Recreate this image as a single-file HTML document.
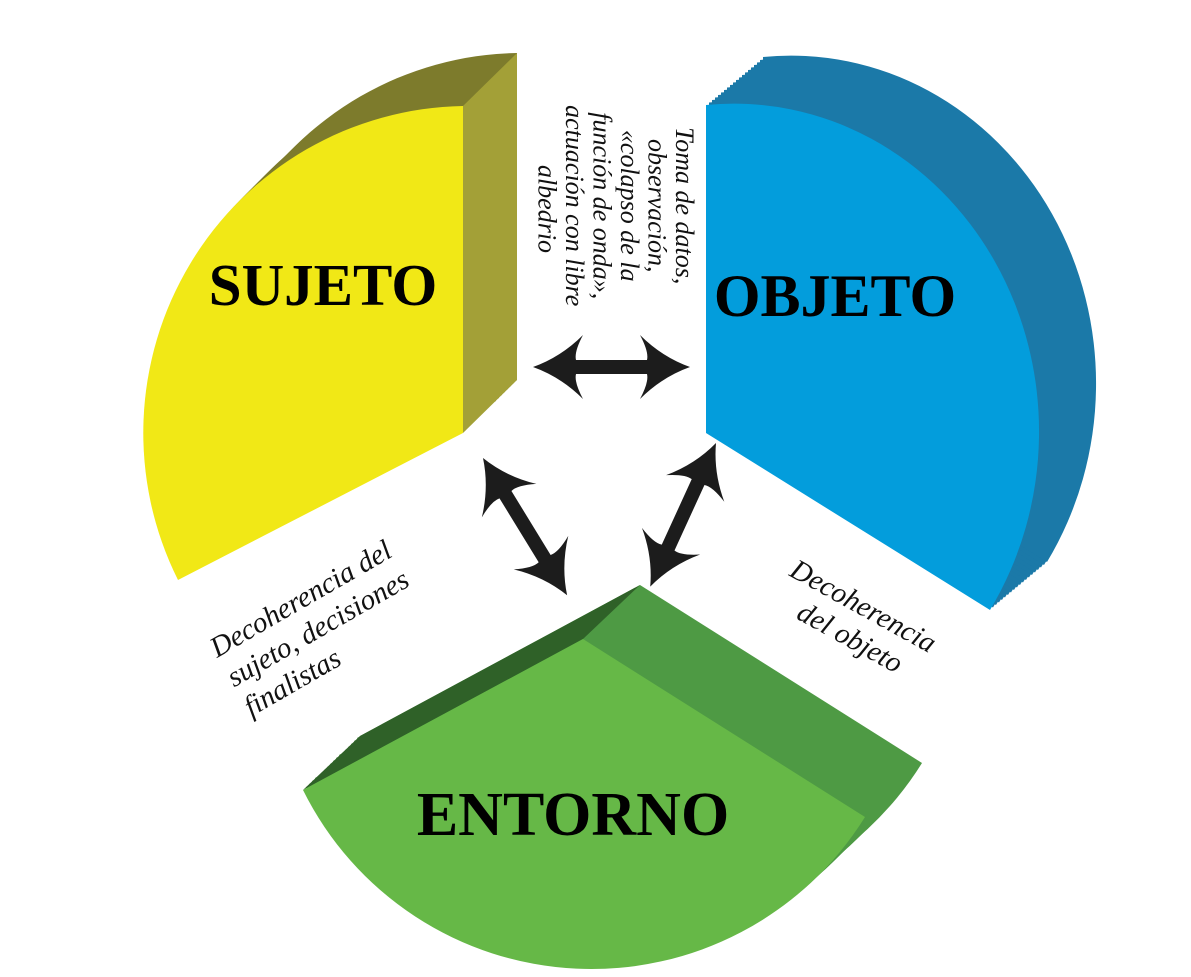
<!DOCTYPE html>
<html><head><meta charset="utf-8"><style>
html,body{margin:0;padding:0;background:#fff;}
svg{display:block;}
</style></head><body>
<svg width="1191" height="977" viewBox="0 0 1191 977" xmlns="http://www.w3.org/2000/svg">
<defs>
<path id="ypie" d="M463,106 L463,433 L178,580 A325,327 0 0 1 463,106 Z"/>
<path id="bpie" d="M706,105 L706,433 L990,610 A305,328 0 0 0 706,105 Z"/>
<path id="gpie" d="M583,639 L303,790 A322,322 0 0 0 865,817 Z"/>
</defs>
<g fill="#7d7b2c">
<use href="#ypie" transform="translate(3,-3)"/><use href="#ypie" transform="translate(6,-6)"/><use href="#ypie" transform="translate(9,-9)"/>
<use href="#ypie" transform="translate(12,-12)"/><use href="#ypie" transform="translate(15,-15)"/><use href="#ypie" transform="translate(18,-18)"/>
<use href="#ypie" transform="translate(21,-21)"/><use href="#ypie" transform="translate(24,-24)"/><use href="#ypie" transform="translate(27,-27)"/>
<use href="#ypie" transform="translate(30,-30)"/><use href="#ypie" transform="translate(33,-32)"/><use href="#ypie" transform="translate(36,-35)"/>
<use href="#ypie" transform="translate(39,-38)"/><use href="#ypie" transform="translate(42,-41)"/><use href="#ypie" transform="translate(45,-44)"/>
<use href="#ypie" transform="translate(48,-47)"/><use href="#ypie" transform="translate(51,-50)"/><use href="#ypie" transform="translate(54,-53)"/>
</g>
<polygon points="463,106 517,53 517,380 463,433" fill="#a3a037"/>
<use href="#ypie" fill="#f1e816"/>
<g fill="#1b79a8">
<use href="#bpie" transform="translate(3,-2.5)"/><use href="#bpie" transform="translate(6,-5)"/><use href="#bpie" transform="translate(9,-7.5)"/>
<use href="#bpie" transform="translate(12,-10)"/><use href="#bpie" transform="translate(15,-12.5)"/><use href="#bpie" transform="translate(18,-15)"/>
<use href="#bpie" transform="translate(21,-17.5)"/><use href="#bpie" transform="translate(24,-20)"/><use href="#bpie" transform="translate(27,-22.5)"/>
<use href="#bpie" transform="translate(30,-25)"/><use href="#bpie" transform="translate(33,-27.5)"/><use href="#bpie" transform="translate(36,-30)"/>
<use href="#bpie" transform="translate(39,-32.5)"/><use href="#bpie" transform="translate(42,-35)"/><use href="#bpie" transform="translate(45,-37.5)"/>
<use href="#bpie" transform="translate(48,-40)"/><use href="#bpie" transform="translate(51,-42.5)"/><use href="#bpie" transform="translate(54,-45)"/>
<use href="#bpie" transform="translate(57,-48)"/>
</g>
<use href="#bpie" fill="#039ddc"/>
<g fill="#4e9a44">
<use href="#gpie" transform="translate(3,-3)"/><use href="#gpie" transform="translate(6,-6)"/><use href="#gpie" transform="translate(9,-9)"/>
<use href="#gpie" transform="translate(12,-12)"/><use href="#gpie" transform="translate(15,-14)"/><use href="#gpie" transform="translate(18,-17)"/>
<use href="#gpie" transform="translate(21,-20)"/><use href="#gpie" transform="translate(24,-23)"/><use href="#gpie" transform="translate(27,-26)"/>
<use href="#gpie" transform="translate(30,-29)"/><use href="#gpie" transform="translate(33,-32)"/><use href="#gpie" transform="translate(36,-35)"/>
<use href="#gpie" transform="translate(39,-37)"/><use href="#gpie" transform="translate(42,-40)"/><use href="#gpie" transform="translate(45,-43)"/>
<use href="#gpie" transform="translate(48,-46)"/><use href="#gpie" transform="translate(51,-49)"/><use href="#gpie" transform="translate(54,-52)"/>
<use href="#gpie" transform="translate(57,-54)"/>
</g>
<polygon points="303,790 360,736 640,585 583,639" fill="#2f6128"/>
<use href="#gpie" fill="#66b847"/>
<g font-family="Liberation Serif, serif" font-weight="bold" fill="#000">
<text x="323" y="305" font-size="59" text-anchor="middle">SUJETO</text>
<text x="835" y="316" font-size="60" text-anchor="middle">OBJETO</text>
<text x="573" y="835" font-size="62" text-anchor="middle">ENTORNO</text>
</g>
<g fill="#1c1c1c">
<path transform="translate(533,367)" d="M0,0 Q28,-10 50,-32 Q41,-15 43,-7 L114,-7 Q116,-15 107,-32 Q129,-10 157,0 Q129,10 107,32 Q116,15 114,7 L43,7 Q41,15 50,32 Q28,10 0,0Z"/>
<path transform="translate(483,458) rotate(58.5)" d="M0,0 Q28,-10 50,-32 Q41,-15 43,-7 L118,-7 Q120,-15 111,-32 Q133,-10 161,0 Q133,10 111,32 Q120,15 118,7 L43,7 Q41,15 50,32 Q28,10 0,0Z"/>
<path transform="translate(716,443) rotate(114.6)" d="M0,0 Q28,-10 50,-32 Q41,-15 43,-7 L115,-7 Q117,-15 108,-32 Q130,-10 158,0 Q130,10 108,32 Q117,15 115,7 L43,7 Q41,15 50,32 Q28,10 0,0Z"/>
</g>
<g font-family="Liberation Serif, serif" font-style="italic" fill="#111">
<text transform="translate(676,209) rotate(90)" text-anchor="middle" font-size="26">
<tspan x="0" y="0">Toma de datos,</tspan>
<tspan x="0" dy="27.5">observación,</tspan>
<tspan x="0" dy="27.5">«colapso de la</tspan>
<tspan x="0" dy="27.5">función de onda»,</tspan>
<tspan x="0" dy="27.5">actuación con libre</tspan>
<tspan x="0" dy="27.5">albedrio</tspan>
</text>
<text transform="translate(217,658) rotate(-30)" font-size="29">
<tspan x="0" y="0">Decoherencia del</tspan>
<tspan x="0" dy="34">sujeto, decisiones</tspan>
<tspan x="0" dy="34">finalistas</tspan>
</text>
<text transform="translate(862,616) rotate(29)" font-size="29" text-anchor="middle">
<tspan x="0" y="0">Decoherencia</tspan>
<tspan x="0" dy="34">del objeto</tspan>
</text>
</g>
</svg>
</body></html>
